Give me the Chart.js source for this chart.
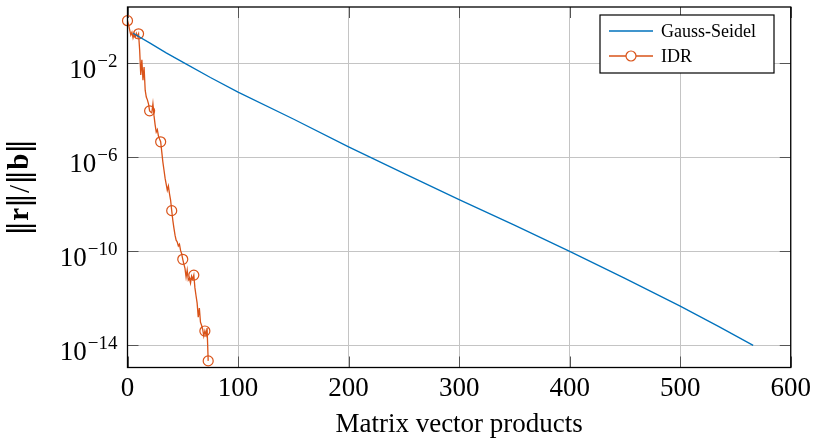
<!DOCTYPE html>
<html>
<head>
<meta charset="utf-8">
<script src="https://cdn.jsdelivr.net/npm/chart.js@4.4.1/dist/chart.umd.min.js"></script>
<style>
  html, body { margin: 0; padding: 0; background: #fff; }
  #wrap { width: 816px; height: 441px; position: relative; }
</style>
</head>
<body>
<div id="wrap"><canvas id="residuals"></canvas></div>
<script>
// Gauss-Seidel: relative residual against matrix-vector products
const gsSteps = [5, 20, 35, 52, 75, 100, 150, 200, 250, 300, 350, 400, 450, 500, 535, 566];
const gsResidual = [1.9e-1, 7.4e-2, 2.8e-2, 1.0e-2, 2.5e-3, 6.0e-4, 4.3e-5, 2.8e-6,
  2.1e-7, 1.6e-8, 1.3e-9, 1.0e-10, 7.1e-12, 4.7e-13, 6.3e-14, 1.0e-14];

// IDR: one residual per matrix-vector product (0 .. 73)
const idrResidual = [
  6.5e-1, 4.3e-1, 2.6e-1, 1.6e-1, 2.1e-1, 1.2e-1, 1.8e-1, 1.3e-1, 1.9e-1, 1.4e-1,
  1.8e-1, 3.7e-2, 3.2e-3, 1.4e-2, 1.9e-3, 6.9e-3, 7.2e-4, 3.7e-4, 2.8e-4, 1.9e-4,
  9.5e-5, 8.5e-5, 7.8e-5, 1.9e-4, 5.8e-5, 2.4e-5, 1.2e-5, 1.5e-5, 8.1e-6, 6.0e-6,
  4.6e-6, 1.7e-6, 6.3e-7, 2.9e-7, 1.3e-7, 7.2e-8, 4.0e-8, 6.0e-8, 2.8e-8, 1.5e-8,
  5.4e-9, 2.1e-9, 9.8e-10, 4.9e-10, 3.0e-10, 2.5e-10, 1.7e-10, 2.0e-10, 1.1e-10, 7.8e-11,
  4.6e-11, 2.9e-11, 1.9e-11, 8.1e-12, 1.6e-11, 6.0e-12, 7.2e-12, 4.5e-12, 8.9e-12, 6.6e-12,
  9.8e-12, 2.8e-12, 1.3e-12, 6.3e-13, 1.6e-13, 3.9e-13, 9.8e-14, 7.2e-14, 4.9e-14, 2.5e-14,
  4.1e-14, 2.8e-14, 5.5e-14, 2.2e-15
];

const xTicks = [0, 100, 200, 300, 400, 500, 600];
const yTickExponents = [-2, -6, -10, -14];
const seriesNames = ['Gauss-Seidel', 'IDR'];

const BLUE = '#0072bd';
const ORANGE = '#d95319';
const SERIF = '"Liberation Serif", "Times New Roman", serif';

// ticks drawn inwards on all four sides, like a framed axis
const frameAndTicks = {
  id: 'frameAndTicks',
  beforeDatasetsDraw(chart) {
    const { ctx, chartArea: a, scales } = chart;
    const len = 11;
    ctx.save();
    ctx.strokeStyle = '#555';
    ctx.lineWidth = 1;
    ctx.beginPath();
    xTicks.forEach(v => {
      const x = Math.round(scales.x.getPixelForValue(v)) + 0.5;
      ctx.moveTo(x, a.bottom); ctx.lineTo(x, a.bottom - len);
      ctx.moveTo(x, a.top); ctx.lineTo(x, a.top + len);
    });
    yTickExponents.forEach(e => {
      const y = Math.round(scales.y.getPixelForValue(Math.pow(10, e))) + 0.5;
      ctx.moveTo(a.left, y); ctx.lineTo(a.left + len, y);
      ctx.moveTo(a.right, y); ctx.lineTo(a.right - len, y);
    });
    ctx.stroke();
    ctx.restore();
  },
  afterDatasetsDraw(chart) {
    const { ctx, chartArea: a } = chart;
    ctx.save();
    ctx.strokeStyle = '#000';
    ctx.lineWidth = 1.3;
    ctx.strokeRect(a.left, a.top, a.right - a.left, a.bottom - a.top);
    ctx.restore();
  }
};

// y tick labels as 10 with a raised exponent, plus the norm-ratio axis title
const logLabels = {
  id: 'logLabels',
  afterDraw(chart) {
    const { ctx, scales, chartArea: a } = chart;
    ctx.save();
    ctx.fillStyle = '#000';
    ctx.textBaseline = 'alphabetic';
    ctx.textAlign = 'left';
    const right = a.left - 10;
    yTickExponents.forEach(e => {
      const y = scales.y.getPixelForValue(Math.pow(10, e));
      const exp = '\u2212' + Math.abs(e);
      ctx.font = '19px ' + SERIF;
      const we = ctx.measureText(exp).width;
      ctx.fillText(exp, right - we, y + 3.5);
      ctx.font = '27px ' + SERIF;
      const wb = ctx.measureText('10').width;
      ctx.fillText('10', right - we - wb - 1, y + 15);
    });

    // ‖r‖/‖b‖ with bold vectors, rotated
    const bars = '30px "DejaVu Serif", serif';
    const parts = [['\u2016', bars], ['r', 'bold 29px ' + SERIF], ['\u2016', bars],
      ['/', '29px ' + SERIF], ['\u2016', bars], ['b', 'bold 29px ' + SERIF], ['\u2016', bars]];
    let total = 0;
    parts.forEach(p => { ctx.font = p[1]; total += ctx.measureText(p[0]).width; });
    ctx.translate(21, (a.top + a.bottom) / 2);
    ctx.rotate(-Math.PI / 2);
    ctx.textBaseline = 'middle';
    let x = -total / 2;
    parts.forEach(p => {
      ctx.font = p[1];
      ctx.fillText(p[0], x, 0);
      x += ctx.measureText(p[0]).width;
    });
    ctx.restore();
  }
};

// boxed legend in the upper right corner of the plot
const boxLegend = {
  id: 'boxLegend',
  afterDraw(chart) {
    const { ctx } = chart;
    const box = { x: 600, y: 15, w: 174, h: 58 };
    ctx.save();
    ctx.fillStyle = '#fff';
    ctx.fillRect(box.x, box.y, box.w, box.h);
    ctx.strokeStyle = '#000';
    ctx.lineWidth = 1.2;
    ctx.strokeRect(box.x, box.y, box.w, box.h);
    ctx.font = '18px ' + SERIF;
    ctx.textBaseline = 'middle';
    chart.data.datasets.forEach((ds, i) => {
      const y = box.y + 16 + i * 25;
      ctx.strokeStyle = ds.borderColor;
      ctx.lineWidth = 1.3;
      ctx.beginPath();
      ctx.moveTo(box.x + 9, y);
      ctx.lineTo(box.x + 53, y);
      ctx.stroke();
      if (ds.legendMarker) {
        ctx.fillStyle = '#fff';
        ctx.beginPath();
        ctx.arc(box.x + 31, y, 5, 0, Math.PI * 2);
        ctx.fill();
        ctx.lineWidth = 1.2;
        ctx.stroke();
      }
      ctx.fillStyle = '#000';
      ctx.fillText(ds.label, box.x + 61, y + 1);
    });
    ctx.restore();
  }
};

new Chart(document.getElementById('residuals'), {
  type: 'line',
  data: {
    datasets: [
      {
        label: seriesNames[0],
        data: gsSteps.map((s, i) => ({ x: s, y: gsResidual[i] })),
        borderColor: BLUE,
        borderWidth: 1.3,
        pointRadius: 0,
        tension: 0,
        clip: false
      },
      {
        label: seriesNames[1],
        data: idrResidual.map((r, i) => ({ x: i, y: r })),
        borderColor: ORANGE,
        backgroundColor: 'transparent',
        borderWidth: 1.3,
        pointBorderWidth: 1.2,
        pointRadius: c => (c.dataIndex % 10 === 0 || c.dataIndex === idrResidual.length - 1) ? 5 : 0,
        pointHoverRadius: 0,
        tension: 0,
        clip: false,
        legendMarker: true
      }
    ]
  },
  options: {
    responsive: true,
    maintainAspectRatio: false,
    animation: false,
    events: [],
    layout: { padding: { top: 7, right: 20, left: 0, bottom: 0 } },
    plugins: { legend: { display: false }, tooltip: { enabled: false } },
    scales: {
      x: {
        type: 'linear',
        min: 0,
        max: 600,
        afterBuildTicks: s => { s.ticks = xTicks.map(v => ({ value: v })); },
        afterFit: s => { s.height = 73.5; },
        grid: { color: '#c4c4c4', lineWidth: 1, drawTicks: false },
        border: { display: false },
        ticks: {
          color: '#000',
          font: { family: SERIF, size: 27 },
          padding: 5,
          maxRotation: 0
        },
        title: {
          display: true,
          text: 'Matrix vector products',
          color: '#000',
          font: { family: SERIF, size: 27 },
          padding: { top: 0, bottom: 0 }
        }
      },
      y: {
        type: 'logarithmic',
        min: 1.15e-15,
        max: 2.49,
        afterBuildTicks: s => { s.ticks = yTickExponents.map(e => ({ value: Math.pow(10, e) })); },
        afterFit: s => { s.width = 127.5; },
        grid: { color: '#c4c4c4', lineWidth: 1, drawTicks: false },
        border: { display: false },
        ticks: { display: false }
      }
    }
  },
  plugins: [frameAndTicks, logLabels, boxLegend]
});
</script>
</body>
</html>
